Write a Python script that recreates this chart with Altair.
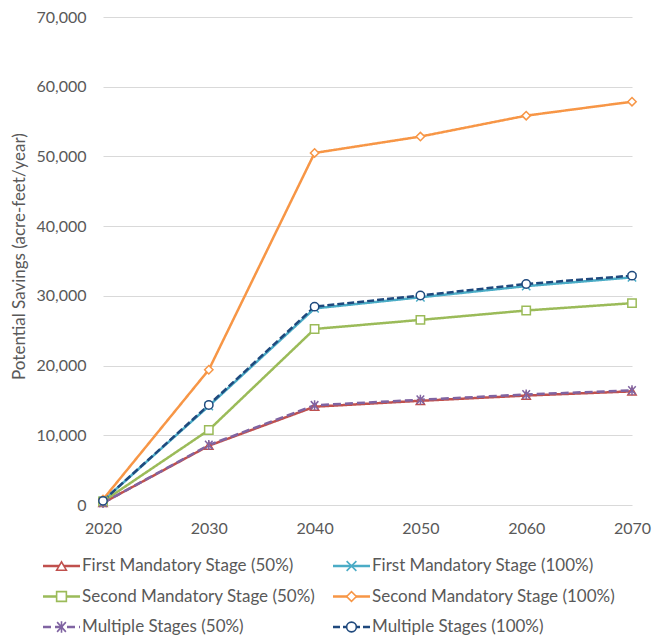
import altair as alt
import pandas as pd

years = [2020, 2030, 2040, 2050, 2060, 2070]
series_names = [
    "First Mandatory Stage (50%)",
    "First Mandatory Stage (100%)",
    "Second Mandatory Stage (50%)",
    "Second Mandatory Stage (100%)",
    "Multiple Stages (50%)",
    "Multiple Stages (100%)",
]
first_50 = [300, 8500, 14100, 14950, 15700, 16300]
first_100 = [600, 14200, 28200, 29800, 31400, 32650]
second_50 = [500, 10750, 25250, 26550, 27900, 28950]
second_100 = [800, 19400, 50500, 52850, 55850, 57850]
multiple_50 = [300, 8600, 14300, 15100, 15850, 16450]
multiple_100 = [600, 14350, 28450, 30050, 31700, 32900]
values = [first_50, first_100, second_50, second_100, multiple_50, multiple_100]

colors = ["#C0504D", "#4BACC6", "#9BBB59", "#F79646", "#8064A2", "#1F497D"]
dashes = [[1, 0], [1, 0], [1, 0], [1, 0], [8, 4], [7, 3]]
xpath = "M-1,-1L1,1M-1,1L1,-1"
astpath = "M-0.9,-1L0.9,1M-0.9,1L0.9,-1M0,-1.2V1.2"
shapes = ["triangle-up", xpath, "square", "diamond", astpath, "circle"]

rows = []
for name, vals in zip(series_names, values):
    for yr, v in zip(years, vals):
        rows.append({"year": yr, "savings": v, "series": name,
                     "dashed": name.startswith("Multiple")})
df = pd.DataFrame(rows)

# legend table: two columns, three rows (row-major, like the reference)
legend_df = pd.DataFrame({
    "series": series_names,
    "col": [i % 2 for i in range(len(series_names))],
    "row": [i // 2 for i in range(len(series_names))],
})

FONT = "Lato"
GREY = "#595959"

x_enc = alt.X(
    "year:Q",
    scale=alt.Scale(domain=[2020, 2070], nice=False, zero=False),
    axis=alt.Axis(values=years, format="d", title=None, grid=False, domain=False,
                  ticks=False, labelPadding=15, labelFontSize=16, labelColor=GREY,
                  labelFont=FONT, labelFlush=False),
)
y_enc = alt.Y(
    "savings:Q",
    scale=alt.Scale(domain=[0, 70000], nice=False),
    axis=alt.Axis(values=list(range(0, 70001, 10000)), format=",d",
                  title="Potential Savings (acre-feet/year)", titleFontSize=17,
                  titleFont=FONT, titleFontWeight="normal", titleColor=GREY,
                  titlePadding=7, titleY=239, domain=False, ticks=False, labelPadding=17,
                  labelFontSize=16, labelColor=GREY, labelFont=FONT, labelFlush=False,
                  grid=True, gridColor="#D9D9D9", gridWidth=1),
)

color_scale = alt.Scale(domain=series_names, range=colors)
dash_scale = alt.Scale(domain=series_names, range=dashes)
shape_scale = alt.Scale(domain=series_names, range=shapes)

base = alt.Chart(df)

lines_solid = base.transform_filter("!datum.dashed").mark_line(strokeWidth=2.5).encode(
    x=x_enc, y=y_enc,
    color=alt.Color("series:N", scale=color_scale, legend=None),
    strokeDash=alt.StrokeDash("series:N", scale=dash_scale, legend=None),
)

lines_dashed = base.transform_filter("datum.dashed").mark_line(strokeWidth=2.5).encode(
    x=x_enc, y=y_enc,
    color=alt.Color("series:N", scale=color_scale, legend=None),
    strokeDash=alt.StrokeDash("series:N", scale=dash_scale, legend=None),
)

points = base.mark_point(size=70, strokeWidth=1.5, opacity=1, filled=False,
                         fill="white").encode(
    x=x_enc, y=y_enc,
    color=alt.Color("series:N", scale=color_scale, legend=None),
    shape=alt.Shape("series:N", scale=shape_scale, legend=None),
)

# ---- legend below the plot (pixel layout relative to the plot origin) ----
leg = alt.Chart(legend_df).transform_calculate(
    lx="-60 + datum.col * 290",
    lx2="-60 + datum.col * 290 + 37",
    mx="-60 + datum.col * 290 + 18.5",
    tx="-60 + datum.col * 290 + 39",
    ly="549 + datum.row * 30.5",
)

leg_lines = leg.mark_rule(strokeWidth=2.5).encode(
    x=alt.X("lx:Q", scale=None, axis=None),
    x2="lx2:Q",
    y=alt.Y("ly:Q", scale=None, axis=None),
    color=alt.Color("series:N", scale=color_scale, legend=None),
    strokeDash=alt.StrokeDash("series:N", scale=dash_scale, legend=None),
)
leg_marks = leg.mark_point(size=95, strokeWidth=1.6, opacity=1, filled=False,
                           fill="white").encode(
    x=alt.X("mx:Q", scale=None, axis=None),
    y=alt.Y("ly:Q", scale=None, axis=None),
    color=alt.Color("series:N", scale=color_scale, legend=None),
    shape=alt.Shape("series:N", scale=shape_scale, legend=None),
)
leg_text = leg.mark_text(align="left", baseline="middle", fontSize=17, font=FONT,
                         color=GREY).encode(
    x=alt.X("tx:Q", scale=None, axis=None),
    y=alt.Y("ly:Q", scale=None, axis=None),
    text="series:N",
)

chart = alt.layer(
    lines_solid, lines_dashed, points, leg_lines, leg_marks, leg_text
).properties(
    width=529, height=488,
    autosize=alt.AutoSizeParams(type="none"),
    padding={"left": 95, "top": 9, "right": 26, "bottom": 134},
).configure_view(stroke=None)

chart.save("out.html", embed_options={"renderer": "svg", "actions": False})
